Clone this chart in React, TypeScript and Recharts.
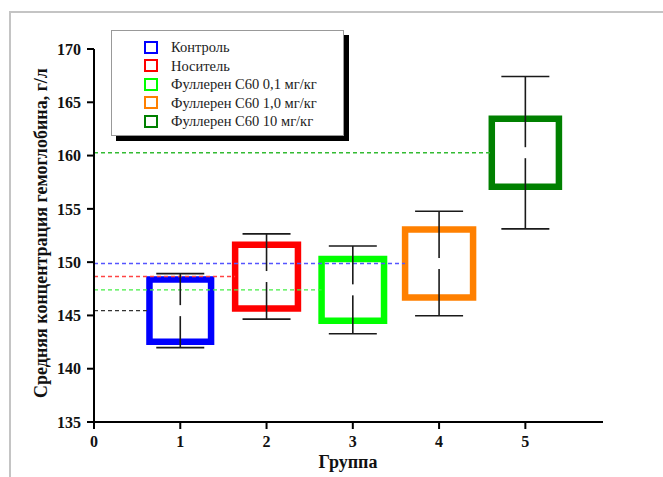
import {
  ComposedChart,
  Scatter,
  ErrorBar,
  XAxis,
  YAxis,
  ReferenceArea,
  ReferenceLine,
  Legend,
  Label,
} from 'recharts';

const groups = [1, 2, 3, 4, 5];
const means = [145.45, 148.65, 147.4, 149.87, 160.27];
const errors = [3.47, 4.0, 4.12, 4.9, 7.15];
// half height of each box in g/l and half width in group units
const boxHalfY = [2.93, 2.99, 2.9, 3.19, 3.19];
const boxHalfX = [0.357, 0.364, 0.362, 0.394, 0.389];
const seriesNames = [
  'Контроль',
  'Носитель',
  'Фуллерен С60 0,1 мг/кг',
  'Фуллерен С60 1,0 мг/кг',
  'Фуллерен С60 10 мг/кг',
];
const xTicks = [0, 1, 2, 3, 4, 5];
const yTicks = [135, 140, 145, 150, 155, 160, 165, 170];

const COLORS = ['#0000ff', '#ff0000', '#00ff00', '#ff8000', '#008000'];
const DASH_COLORS = ['#333333', '#ff4444', '#44ee44', '#5555ff', '#33bb33'];
const FONT = 'Liberation Serif, Times New Roman, serif';

const rows = groups.map((g, i) => ({ x: g, y: means[i], err: errors[i] }));

const XTick = (p: any) => (
  <text x={p.x} y={p.y} dy="0.71em" textAnchor="middle" style={{ fontFamily: FONT }} fontSize={16} fontWeight={700} fill="#111">
    {p.payload.value}
  </text>
);

const YTick = (p: any) => (
  <text x={p.x} y={p.y} dy="0.355em" textAnchor="end" style={{ fontFamily: FONT }} fontSize={16} fontWeight={700} fill="#111">
    {p.payload.value}
  </text>
);

function LegendBox() {
  return (
    <div
      style={{
        width: 233,
        height: 106,
        boxSizing: 'border-box',
        border: '1px solid #999',
        background: '#fff',
        boxShadow: '5px 5px 0 #000',
        paddingTop: 7,
        fontFamily: FONT,
      }}
    >
      {seriesNames.map((name, i) => (
        <div key={name} style={{ display: 'flex', alignItems: 'center', height: 18.5 }}>
          <span
            style={{
              marginLeft: 32,
              width: 14,
              height: 13,
              boxSizing: 'border-box',
              border: `2px solid ${COLORS[i]}`,
            }}
          />
          <span style={{ marginLeft: 13, fontFamily: FONT, fontSize: 14.5, lineHeight: '18px', color: '#222' }}>{name}</span>
        </div>
      ))}
    </div>
  );
}

export default function App() {
  return (
    <div style={{ position: 'absolute', left: 0, top: 0, width: 663, height: 477, background: '#fff' }}>
      <div
        style={{
          position: 'absolute',
          left: 9,
          top: 11,
          right: 0,
          bottom: 0,
          borderTop: '2px solid #c4c4c4',
          borderLeft: '2px solid #c4c4c4',
        }}
      />
      <ComposedChart
        width={663}
        height={477}
        margin={{ top: 49, right: 60, bottom: 20, left: 0 }}
        style={{ position: 'absolute', left: 0, top: 0 }}
      >
        <XAxis
          type="number"
          dataKey="x"
          domain={[0, 5.9]}
          ticks={xTicks}
          height={35}
          tickSize={7}
          tickMargin={7}
          tick={XTick}
          axisLine={{ stroke: '#000', strokeWidth: 2 }}
          tickLine={{ stroke: '#000', strokeWidth: 2 }}
        >
          <Label
            content={() => (
              <text x={348} y={462} textAnchor="middle" dominantBaseline="central" style={{ fontFamily: FONT }} fontSize={18} fontWeight={700} fill="#111">
                Группа
              </text>
            )}
          />
        </XAxis>
        <YAxis
          type="number"
          dataKey="y"
          domain={[135, 170]}
          ticks={yTicks}
          width={94}
          tickSize={7}
          tickMargin={6}
          tick={YTick}
          axisLine={{ stroke: '#000', strokeWidth: 2 }}
          tickLine={{ stroke: '#000', strokeWidth: 2 }}
        >
          <Label
            content={() => (
              <text
                x={41}
                y={233}
                transform="rotate(-90 41 233)"
                textAnchor="middle"
                dominantBaseline="central"
                style={{ fontFamily: FONT }}
                fontSize={18}
                fontWeight={700}
                fill="#111"
              >
                Средняя концентрация гемоглобина, г/л
              </text>
            )}
          />
        </YAxis>
        <Legend
          layout="vertical"
          align="center"
          verticalAlign="middle"
          wrapperStyle={{ left: 111, top: 30, width: 233, height: 106 }}
          content={() => <LegendBox />}
        />
        {groups.map((g, i) => (
          <ReferenceLine
            key={`d${g}`}
            segment={[
              { x: 0, y: means[i] },
              { x: g - boxHalfX[i], y: means[i] },
            ]}
            stroke={DASH_COLORS[i]}
            strokeWidth={1.4}
            strokeDasharray="4 3"
          />
        ))}
        {groups.map((g, i) => (
          <ReferenceArea
            key={`b${g}`}
            x1={g - boxHalfX[i]}
            x2={g + boxHalfX[i]}
            y1={means[i] - boxHalfY[i]}
            y2={means[i] + boxHalfY[i]}
            fill="none"
            fillOpacity={0}
            stroke={COLORS[i]}
            strokeWidth={6.5}
          />
        ))}
        <Scatter
          data={rows}
          dataKey="y"
          isAnimationActive={false}
          shape={(p: any) => <rect x={p.cx - 3} y={p.cy - 5.5} width={6} height={11} fill="#fff" />}
        >
          <ErrorBar dataKey="err" direction="y" width={24} stroke="#1a1a1a" strokeWidth={1.6} isAnimationActive={false} />
        </Scatter>
      </ComposedChart>
    </div>
  );
}
